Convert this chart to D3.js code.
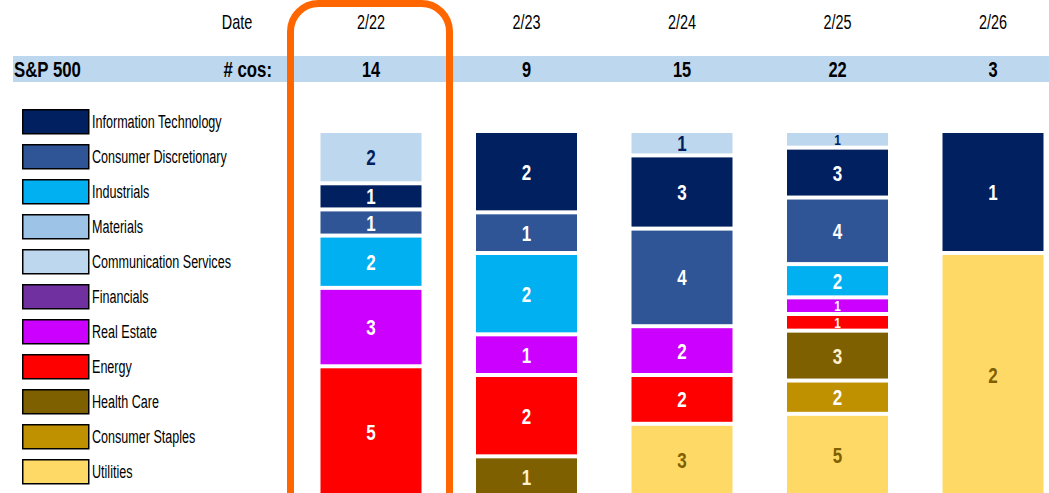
<!DOCTYPE html>
<html>
<head>
<meta charset="utf-8">
<script src="https://cdn.jsdelivr.net/npm/d3@7"></script>
<style>
  body { margin: 0; background: #fff; }
  svg text { font-family: "Liberation Sans", Arial, sans-serif; }
</style>
</head>
<body>
<div id="chart"></div>
<script>
// dates across the top and the company count per day
var dates = ["2/22", "2/23", "2/24", "2/25", "2/26"];
var counts = [14, 9, 15, 22, 3];

// legend order
var sectors = ["Information Technology", "Consumer Discretionary", "Industrials", "Materials",
    "Communication Services", "Financials", "Real Estate", "Energy", "Health Care",
    "Consumer Staples", "Utilities"];
var sectorColors = ["#002060", "#2F5597", "#00B0F0", "#9DC3E6", "#BDD7EE", "#7030A0",
    "#CC00FF", "#FF0000", "#7F6000", "#BF9000", "#FFD966"];
var labelColors = ["#fff", "#fff", "#fff", "#002060", "#002060", "#fff",
    "#fff", "#fff", "#FFF2CC", "#fff", "#7F6000"];

// order of the segments from top to bottom
var stackOrder = ["Communication Services", "Information Technology", "Consumer Discretionary",
    "Industrials", "Materials", "Financials", "Real Estate", "Energy", "Health Care",
    "Consumer Staples", "Utilities"];

// number of companies per sector, one value per date
var commServices = [2, 0, 1, 1, 0];
var infoTech     = [1, 2, 3, 3, 1];
var consDisc     = [1, 1, 4, 4, 0];
var industrials  = [2, 2, 0, 2, 0];
var materials    = [0, 0, 0, 0, 0];
var financials   = [0, 0, 0, 0, 0];
var realEstate   = [3, 1, 2, 1, 0];
var energy       = [5, 2, 2, 1, 0];
var healthCare   = [0, 1, 0, 3, 0];
var consStaples  = [0, 0, 0, 2, 0];
var utilities    = [0, 0, 3, 5, 2];

var bySector = {
    "Communication Services": commServices,
    "Information Technology": infoTech,
    "Consumer Discretionary": consDisc,
    "Industrials": industrials,
    "Materials": materials,
    "Financials": financials,
    "Real Estate": realEstate,
    "Energy": energy,
    "Health Care": healthCare,
    "Consumer Staples": consStaples,
    "Utilities": utilities
};

var width = 1049, height = 493;

var svg = d3.select("#chart").append("svg")
    .attr("width", width)
    .attr("height", height);

// the original uses a narrow font, so squeeze the text horizontally
function squeeze(px, py, sx, sy) {
    return "translate(" + px + "," + py + ") scale(" + sx + "," + sy + ")";
}

// build rows for d3.stack
var rows = dates.map(function(d, i) {
    var row = {date: d};
    stackOrder.forEach(function(k) { row[k] = bySector[k][i]; });
    return row;
});

var series = d3.stack()
    .keys(stackOrder)
    .offset(d3.stackOffsetExpand)(rows);

var x = d3.scalePoint().domain(dates).range([371, 993]);
var y = d3.scaleLinear().domain([0, 1]).range([133, 499]);
var barW = 101;
var gap = 4;

var color = d3.scaleOrdinal().domain(sectors).range(sectorColors);
var labelColor = d3.scaleOrdinal().domain(sectors).range(labelColors);

// header: dates
svg.append("text")
    .attr("transform", squeeze(237, 29, 0.76, 1.06))
    .attr("text-anchor", "middle")
    .attr("font-size", 19)
    .text("Date");

svg.selectAll(".dateLabel")
    .data(dates)
    .enter().append("text")
    .attr("class", "dateLabel")
    .attr("transform", function(d) { return squeeze(x(d), 29, 0.76, 1.06); })
    .attr("text-anchor", "middle")
    .attr("font-size", 19)
    .text(function(d) { return d; });

// blue band with counts
svg.append("rect")
    .attr("x", 13).attr("y", 56)
    .attr("width", width - 13).attr("height", 26)
    .attr("fill", "#BDD7EE");

svg.append("text")
    .attr("transform", squeeze(14, 77, 0.84, 1.1))
    .attr("font-size", 20).attr("font-weight", "bold")
    .text("S&P 500");

svg.append("text")
    .attr("transform", squeeze(272, 77, 0.84, 1.1))
    .attr("text-anchor", "end")
    .attr("font-size", 20).attr("font-weight", "bold")
    .text("# cos:");

svg.selectAll(".countLabel")
    .data(counts)
    .enter().append("text")
    .attr("class", "countLabel")
    .attr("transform", function(d, i) { return squeeze(x(dates[i]), 77, 0.82, 1.1); })
    .attr("text-anchor", "middle")
    .attr("font-size", 20).attr("font-weight", "bold")
    .text(function(d) { return d; });

// legend
var legend = svg.selectAll(".legendItem")
    .data(sectors)
    .enter().append("g")
    .attr("class", "legendItem")
    .attr("transform", function(d, i) { return "translate(22," + (109 + i * 35) + ")"; });

legend.append("rect")
    .attr("x", 0.75).attr("y", 0.75)
    .attr("width", 66).attr("height", 24)
    .attr("fill", function(d) { return color(d); })
    .attr("stroke", "#000")
    .attr("stroke-width", 1.5);

legend.append("text")
    .attr("transform", squeeze(70, 19, 0.74, 1.06))
    .attr("font-size", 17)
    .text(function(d) { return d; });

// stacked segments
var groups = svg.selectAll(".series")
    .data(series)
    .enter().append("g")
    .attr("class", "series");

var segs = groups.selectAll(".seg")
    .data(function(s) {
        return s.map(function(p, i) {
            return {key: s.key, date: dates[i], y0: p[0], y1: p[1], value: p.data[s.key]};
        }).filter(function(p) { return p.value > 0; });
    })
    .enter().append("g")
    .attr("class", "seg");

segs.append("rect")
    .attr("x", function(d) { return x(d.date) - barW / 2; })
    .attr("y", function(d) { return y(d.y0); })
    .attr("width", barW)
    .attr("height", function(d) { return y(d.y1) - y(d.y0) - gap; })
    .attr("fill", function(d) { return color(d.key); });

// small segments get a smaller number so the labels don't run into each other
segs.append("text")
    .attr("transform", function(d) {
        var h = y(d.y1) - y(d.y0) - gap;
        var fs = h < 16 ? 14 : 20;
        return squeeze(x(d.date), (y(d.y0) + y(d.y1) - gap) / 2 + fs * 0.4, 0.85, 1.1);
    })
    .attr("text-anchor", "middle")
    .attr("font-size", function(d) { return (y(d.y1) - y(d.y0) - gap) < 16 ? 14 : 20; })
    .attr("font-weight", "bold")
    .attr("fill", function(d) { return labelColor(d.key); })
    .text(function(d) { return d.value; });

// orange highlight round the first day
svg.append("rect")
    .attr("x", x("2/22") - 80.5).attr("y", 3.5)
    .attr("width", 159).attr("height", 600)
    .attr("rx", 28)
    .attr("fill", "none")
    .attr("stroke", "#FF6600")
    .attr("stroke-width", 7);
</script>
</body>
</html>
